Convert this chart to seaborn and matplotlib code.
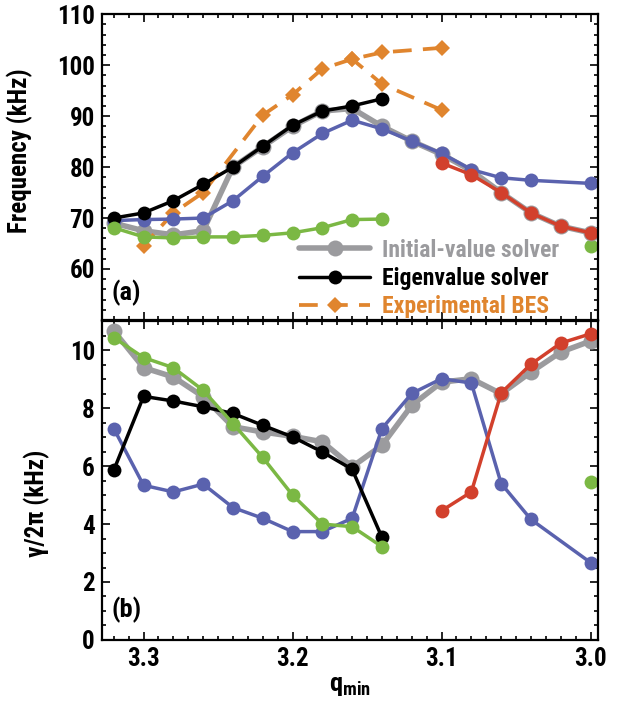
import matplotlib
matplotlib.use("Agg")
import matplotlib.pyplot as plt
import numpy as np
import seaborn as sns

# q_min grid (x axis is reversed)
q_all = [3.32, 3.30, 3.28, 3.26, 3.24, 3.22, 3.20, 3.18, 3.16, 3.14,
         3.12, 3.10, 3.08, 3.06, 3.04, 3.02, 3.00]
q_low = q_all[:10]                      # 3.32 .. 3.14
q_blue = [q for q in q_all if q != 3.02]
q_red = [3.10, 3.08, 3.06, 3.04, 3.02, 3.00]

# (a) frequency, kHz
f_ivs = [69.0, 67.5, 66.7, 67.5, 80.0, 84.0, 88.0, 91.0, 91.5, 88.0,
         85.1, 82.5, 79.3, 75.0, 71.0, 68.4, 67.1]
f_eig = [70.0, 71.0, 73.4, 76.6, 80.0, 84.1, 88.2, 91.0, 92.0, 93.4]
f_blue = [69.5, 69.7, 69.8, 70.0, 73.4, 78.2, 82.8, 86.6, 89.2, 87.5,
          85.1, 82.7, 79.5, 77.9, 77.4, 76.8]
f_green = [68.1, 66.3, 66.1, 66.3, 66.3, 66.6, 67.1, 68.1, 69.7, 69.8]
f_red = [80.8, 78.5, 75.0, 71.0, 68.4, 67.1]
q_bes_up = [3.30, 3.28, 3.26, 3.22, 3.20, 3.18, 3.16, 3.14, 3.10]
f_bes_up = [64.6, 71.0, 75.0, 90.2, 94.2, 99.3, 101.2, 102.5, 103.4]
q_bes_dn = [3.16, 3.14, 3.10]
f_bes_dn = [101.2, 96.3, 91.2]
f_green_lone = 64.5

# (b) growth rate gamma/2pi, kHz
g_ivs = [10.67, 9.40, 9.08, 8.40, 7.36, 7.18, 7.03, 6.84, 5.98, 6.72,
         8.10, 8.90, 9.02, 8.50, 9.25, 9.94, 10.32]
g_eig = [5.86, 8.41, 8.25, 8.05, 7.82, 7.41, 7.01, 6.49, 5.89, 3.54]
g_blue = [7.30, 5.34, 5.11, 5.38, 4.57, 4.20, 3.74, 3.74, 4.20, 7.30,
          8.51, 9.02, 8.87, 5.40, 4.16, 2.67]
g_green = [10.44, 9.75, 9.40, 8.62, 7.47, 6.30, 5.00, 4.00, 3.91, 3.22]
g_red = [4.46, 5.11, 8.53, 9.52, 10.25, 10.57]
g_green_lone = 5.44

GRAY = "#9b9b9e"
BLUE = "#5a62ae"
GREEN = "#7bb844"
RED = "#d2402c"
ORANGE = "#e0852e"

sns.set_style("ticks")
plt.rcParams["font.family"] = ["Roboto Condensed", "DejaVu Sans"]
plt.rcParams["font.weight"] = "bold"
plt.rcParams["mathtext.fontset"] = "custom"
plt.rcParams["mathtext.rm"] = "Roboto Condensed:bold"
plt.rcParams["mathtext.it"] = "Roboto Condensed:bold"
plt.rcParams["mathtext.bf"] = "Roboto Condensed:bold"
for k in ["text.color", "axes.labelcolor", "xtick.color", "ytick.color", "axes.edgecolor"]:
    plt.rcParams[k] = "black"

fig = plt.figure(figsize=(6.21, 7.11), dpi=100)
ax1 = fig.add_axes([0.164, 0.550, 0.799, 0.430])
ax2 = fig.add_axes([0.164, 0.100, 0.799, 0.448])

ivs_kw = dict(color=GRAY, linewidth=4.0, marker="o", markersize=11.5, markeredgewidth=0)
col_kw = dict(linewidth=2.5, marker="o", markersize=10, markeredgewidth=0)

# panel (a)
sns.lineplot(x=q_all, y=f_ivs, ax=ax1, label="Initial-value solver", **ivs_kw)
sns.lineplot(x=q_bes_up, y=f_bes_up, ax=ax1, color=ORANGE, linewidth=2.7,
             linestyle=(0, (5, 3)), marker="D", markersize=8.5, markeredgewidth=0,
             label="Experimental BES")
sns.lineplot(x=q_bes_dn, y=f_bes_dn, ax=ax1, color=ORANGE, linewidth=2.7,
             linestyle=(0, (5, 3)), marker="D", markersize=8.5, markeredgewidth=0)
sns.lineplot(x=q_blue, y=f_blue, ax=ax1, color=BLUE, **col_kw)
sns.lineplot(x=q_low, y=f_eig, ax=ax1, color="black", label="Eigenvalue solver", **col_kw)
sns.lineplot(x=q_low, y=f_green, ax=ax1, color=GREEN, **col_kw)
sns.lineplot(x=q_red, y=f_red, ax=ax1, color=RED, **col_kw)
sns.scatterplot(x=[3.00], y=[f_green_lone], ax=ax1, color=GREEN, s=100, linewidth=0)

# panel (b)
sns.lineplot(x=q_all, y=g_ivs, ax=ax2, **ivs_kw)
sns.lineplot(x=q_blue, y=g_blue, ax=ax2, color=BLUE, **col_kw)
sns.lineplot(x=q_low, y=g_eig, ax=ax2, color="black", **col_kw)
sns.lineplot(x=q_low, y=g_green, ax=ax2, color=GREEN, **col_kw)
sns.lineplot(x=q_red, y=g_red, ax=ax2, color=RED, **col_kw)
sns.scatterplot(x=[3.00], y=[g_green_lone], ax=ax2, color=GREEN, s=100, linewidth=0)

for ax in (ax1, ax2):
    ax.set_xlim(3.328, 2.995)
    ax.set_xticks([3.3, 3.2, 3.1, 3.0])
    ax.xaxis.set_minor_locator(matplotlib.ticker.MultipleLocator(0.01))
    ax.tick_params(which="both", direction="in", top=True, right=True,
                   labelsize=18, width=1.2)
    ax.tick_params(which="major", length=6, pad=5)
    ax.tick_params(which="minor", length=3)
    for s in ax.spines.values():
        s.set_linewidth(1.6)
        s.set_visible(True)
    ax.set_xlabel("")

ax1.set_ylim(50, 110)
ax1.set_yticks([60, 70, 80, 90, 100, 110])
ax1.yaxis.set_minor_locator(matplotlib.ticker.MultipleLocator(2))
ax1.tick_params(labelbottom=False)
ax1.set_ylabel("Frequency (kHz)", fontsize=18, fontweight="bold")
ax1.yaxis.set_label_coords(-0.138, 0.552)

ax2.set_ylim(0, 11)
ax2.set_yticks([0, 2, 4, 6, 8, 10])
ax2.yaxis.set_minor_locator(matplotlib.ticker.MultipleLocator(0.5))
ax2.set_ylabel("γ/2π (kHz)", fontsize=18, fontweight="bold")
ax2.yaxis.set_label_coords(-0.104, 0.43)
ax2.set_xlabel(r"$\mathrm{q}_{\mathrm{min}}$", fontsize=19, labelpad=2)

ax1.text(0.02, 0.09, "(a)", transform=ax1.transAxes, fontsize=19,
         fontweight="bold", va="center", ha="left")
ax2.text(0.02, 0.095, "(b)", transform=ax2.transAxes, fontsize=19,
         fontweight="bold", va="center", ha="left")

handles, labels = ax1.get_legend_handles_labels()
order = [labels.index(n) for n in ["Initial-value solver", "Eigenvalue solver", "Experimental BES"]]
leg = ax1.legend([handles[i] for i in order], [labels[i] for i in order],
                 loc="lower right", bbox_to_anchor=(0.95, -0.04), frameon=False,
                 fontsize=17, handlelength=3.0, handletextpad=0.5,
                 labelspacing=0.22, borderaxespad=0.2)
for t, c in zip(leg.get_texts(), [GRAY, "black", ORANGE]):
    t.set_color(c)
    t.set_fontweight("bold")
if ax2.get_legend() is not None:
    ax2.get_legend().remove()

fig.savefig("out.png", dpi=100)
